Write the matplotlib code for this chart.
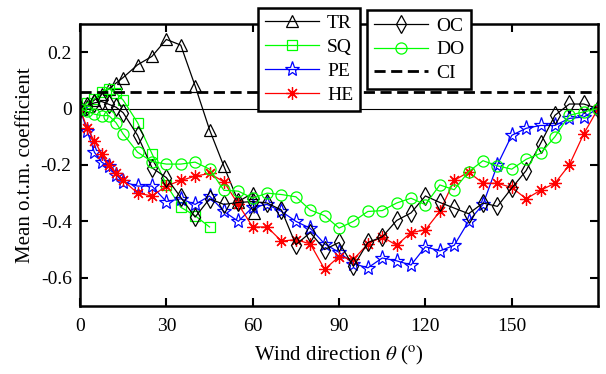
import matplotlib
matplotlib.use("Agg")
import matplotlib.pyplot as plt

plt.rcParams['font.family'] = ['Liberation Serif', 'DejaVu Serif']
plt.rcParams['mathtext.fontset'] = 'stix'

# data (wind direction in degrees, mean coefficient)
tr_x = [0, 2.5, 5, 7.5, 10, 12.5, 15, 20, 25, 30, 35, 40, 45, 50, 55, 60, 60.5]
tr_y = [0, 0.01, 0.03, 0.05, 0.07, 0.09, 0.11, 0.155, 0.185, 0.245, 0.225,
        0.08, -0.075, -0.205, -0.33, -0.30, -0.37]

sq_x = [0, 2.5, 5, 7.5, 10, 12.5, 15, 20, 25, 30, 35, 40, 45]
sq_y = [0, 0.02, 0.035, 0.06, 0.07, 0.055, 0.03, -0.05, -0.16, -0.27,
        -0.35, -0.38, -0.42]

grid5 = list(range(20, 181, 5))
head_x = [0, 2.5, 5, 7.5, 10, 12.5, 15]

pe_x = head_x + grid5
pe_y = [0, -0.08, -0.155, -0.19, -0.205, -0.235, -0.26,
        -0.275, -0.275, -0.33, -0.32, -0.34, -0.31, -0.365, -0.40, -0.35,
        -0.34, -0.365, -0.40, -0.425, -0.48, -0.51, -0.55, -0.565, -0.53,
        -0.54, -0.555, -0.49, -0.505, -0.485, -0.40, -0.34, -0.20, -0.095,
        -0.07, -0.06, -0.06, -0.035, -0.03, 0.0]

he_x = head_x + grid5
he_y = [0, -0.07, -0.115, -0.16, -0.2, -0.23, -0.255,
        -0.30, -0.31, -0.275, -0.255, -0.24, -0.23, -0.26, -0.34, -0.42,
        -0.42, -0.47, -0.465, -0.48, -0.57, -0.525, -0.535, -0.48, -0.455,
        -0.485, -0.44, -0.43, -0.365, -0.255, -0.225, -0.265, -0.265, -0.28,
        -0.32, -0.29, -0.265, -0.20, -0.09, 0.0]

oc_x = head_x + grid5
oc_y = [0, 0.01, 0.02, 0.025, 0.015, 0.005, -0.015,
        -0.095, -0.21, -0.245, -0.315, -0.385, -0.32, -0.34, -0.333, -0.33,
        -0.335, -0.36, -0.483, -0.44, -0.50, -0.475, -0.56, -0.475, -0.455,
        -0.397, -0.37, -0.31, -0.333, -0.353, -0.373, -0.335, -0.347, -0.282,
        -0.22, -0.124, -0.024, 0.016, 0.016, 0.0]

do_x = head_x + grid5
do_y = [0, -0.01, -0.02, -0.025, -0.025, -0.05, -0.09,
        -0.155, -0.188, -0.197, -0.197, -0.19, -0.215, -0.29, -0.293, -0.318,
        -0.30, -0.305, -0.313, -0.36, -0.38, -0.424, -0.40, -0.365, -0.362,
        -0.335, -0.318, -0.341, -0.271, -0.288, -0.224, -0.185, -0.203, -0.215,
        -0.18, -0.159, -0.10, -0.024, -0.012, 0.0]

ci_level = 0.06

fig = plt.figure(figsize=(6.06, 3.74), dpi=100)
ax = fig.add_axes([0.132, 0.182, 0.855, 0.754])

ax.axhline(0, color='black', lw=0.8, zorder=1)

lw = 0.9
h_tr, = ax.plot(tr_x, tr_y, color='black', lw=lw, marker='^', ms=8, mfc='none', mew=0.9, label='TR')
h_sq, = ax.plot(sq_x, sq_y, color=(0, 1, 0), lw=lw, marker='s', ms=7, mfc='none', mew=0.9, label='SQ')
h_pe, = ax.plot(pe_x, pe_y, color=(0, 0, 1), lw=lw, marker='*', ms=11, mfc='none', mew=0.9, label='PE')
h_he, = ax.plot(he_x, he_y, color=(1, 0, 0), lw=lw, marker=(8, 2, 0), ms=9, mew=0.9, label='HE')
h_oc, = ax.plot(oc_x, oc_y, color='black', lw=lw, marker='d', ms=9, mfc='none', mew=0.9, label='OC')
h_do, = ax.plot(do_x, do_y, color=(0, 1, 0), lw=lw, marker='o', ms=8, mfc='none', mew=0.9, label='DO')
h_ci = ax.axhline(ci_level, color='black', lw=2, ls=(0, (4, 2)), label='CI')

ax.set_xlim(0, 180)
ax.set_ylim(-0.7, 0.3)
ax.set_xticks([0, 30, 60, 90, 120, 150])
ax.set_yticks([-0.6, -0.4, -0.2, 0, 0.2])
ax.set_yticklabels(['-0.6', '-0.4', '-0.2', '0', '0.2'])
ax.tick_params(direction='in', top=True, right=True, length=6, width=1.5,
               labelsize=14, pad=6)
ax.tick_params(axis='x', pad=9)
for s in ax.spines.values():
    s.set_linewidth(1.8)

ax.set_xlabel('Wind direction $\\theta$ ($^{\\rm o}$)', fontsize=15, labelpad=6)
ax.set_ylabel('Mean o.t.m. coefficient', fontsize=15, labelpad=4)

leg_kw = dict(loc='upper left', fontsize=14, handlelength=2.8,
              fancybox=False, edgecolor='black', framealpha=1,
              borderpad=0.35, labelspacing=0.32, handletextpad=0.4,
              borderaxespad=0)
leg1 = fig.legend(handles=[h_tr, h_sq, h_pe, h_he],
                  bbox_to_anchor=(0.426, 0.979), **leg_kw)
leg1.get_frame().set_linewidth(1.8)
leg2 = fig.legend(handles=[h_oc, h_do, h_ci],
                  bbox_to_anchor=(0.606, 0.973), **leg_kw)
leg2.get_frame().set_linewidth(1.8)

fig.savefig('out.png', dpi=100)
